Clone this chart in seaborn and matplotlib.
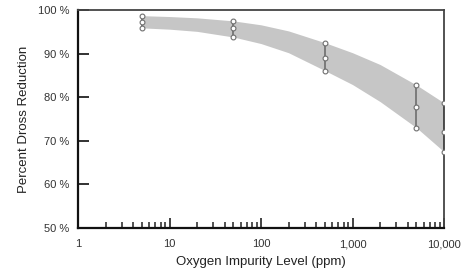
import numpy as np
import pandas as pd
import matplotlib
matplotlib.use("Agg")
import matplotlib.pyplot as plt
import matplotlib.ticker as mticker
import seaborn as sns

## Data
oxygen_ppm = [5, 50, 500, 5000, 10000]
reduction_high = [98.7, 97.5, 92.5, 82.8, 78.7]
reduction_mid = [97.3, 95.9, 89.1, 77.8, 72.1]
reduction_low = [95.9, 93.8, 86.1, 73.0, 67.5]

## Shaded band edges
band_ppm = [5, 10, 20, 50, 100, 200, 500, 1000, 2000, 5000, 10000]
band_upper = [98.7, 98.5, 98.2, 97.5, 96.6, 95.2, 92.5, 90.2, 87.5, 82.8, 78.7]
band_lower = [95.9, 95.6, 95.1, 93.8, 92.3, 90.2, 86.1, 82.9, 79.0, 73.0, 67.5]

x_ticks = [1, 10, 100, 1000, 10000]
x_tick_labels = ["1", "10", "100", "1,000", "10,000"]
y_ticks = [50, 60, 70, 80, 90, 100]
y_tick_labels = ["50 %", "60 %", "70 %", "80 %", "90 %", "100 %"]

points = pd.DataFrame({
    "ppm": oxygen_ppm * 3,
    "reduction": reduction_high + reduction_mid + reduction_low,
})

sns.set_style("ticks")
plt.rcParams["font.family"] = ["Liberation Sans", "DejaVu Sans"]

fig = plt.figure(figsize=(4.71, 2.73), dpi=100)
ax = fig.add_axes([0.1656, 0.1648, 0.7771, 0.7986])

ax.fill_between(band_ppm, band_lower, band_upper, color="#c6c6c6", lw=0, zorder=1)
ax.vlines(oxygen_ppm, reduction_low, reduction_high, color="#6e6e6e", lw=1.2, zorder=2)
sns.scatterplot(data=points, x="ppm", y="reduction", ax=ax, s=12, marker="o",
                facecolor="white", edgecolor="#6e6e6e", linewidth=0.8, zorder=3)

ax.set_xscale("log")
ax.set_xlim(1, 10000)
ax.set_ylim(50, 100)

ax.set_xticks(x_ticks)
ax.set_xticklabels(x_tick_labels)
ax.xaxis.set_minor_locator(mticker.LogLocator(base=10, subs=np.arange(2, 10)))
ax.xaxis.set_minor_formatter(mticker.NullFormatter())
ax.set_yticks(y_ticks)
ax.set_yticklabels(y_tick_labels)

ax.tick_params(axis="x", which="major", bottom=True, direction="in", length=7, width=1.2,
               color="#222222", labelsize=8, labelcolor="#333333", pad=8)
ax.tick_params(axis="x", which="minor", bottom=True, direction="in", length=4, width=1.1,
               color="#222222")
ax.tick_params(axis="y", which="major", left=True, direction="in", length=8, width=1.3,
               color="#222222", labelsize=8, labelcolor="#333333", pad=6)
ax.tick_params(axis="y", which="minor", left=False)

for side in ["left", "bottom"]:
    ax.spines[side].set_color("#111111")
    ax.spines[side].set_linewidth(1.6)
for side in ["top", "right"]:
    ax.spines[side].set_visible(True)
    ax.spines[side].set_color("#444444")
    ax.spines[side].set_linewidth(1.3)

ax.set_xlabel("Oxygen Impurity Level (ppm)", fontsize=9.5, color="#222222", labelpad=5)
ax.set_ylabel("Percent Dross Reduction", fontsize=9.5, color="#222222", labelpad=6)

fig.savefig("out.png", dpi=100)
